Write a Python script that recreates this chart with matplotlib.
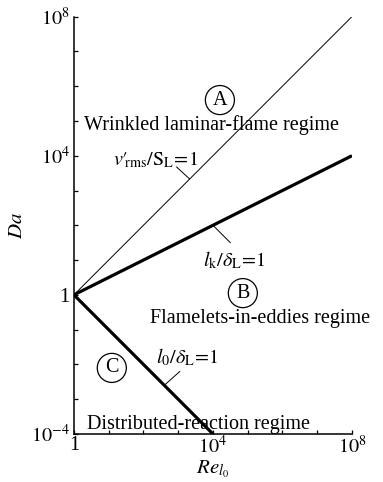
import numpy as np
import matplotlib
matplotlib.use('Agg')
import matplotlib.pyplot as plt

plt.rcParams['font.family'] = ['Liberation Serif', 'DejaVu Serif']
plt.rcParams['mathtext.fontset'] = 'stix'

# boundary lines of the regime diagram (Re_l0, Da)
re_vrms = [1, 1e8]
da_vrms = [1, 1e8]          # v'rms/SL = 1
re_kolmo = [1, 1e8]
da_kolmo = [1, 1e4]         # lk/deltaL = 1
re_integral = [1, 1e4]
da_integral = [1, 1e-4]     # l0/deltaL = 1

xticks = [1, 1e4, 1e8]
xticklabels = ['1', r'$10^4$', r'$10^8$']
yticks = [1e-4, 1, 1e4, 1e8]
yticklabels = [r'$10^{-4}$', '1', r'$10^4$', r'$10^8$']
decades = [10.0**k for k in range(-4, 9)]

fig = plt.figure(figsize=(3.83, 4.82), dpi=100)
ax = fig.add_axes([0.193, 0.0996, 0.726, 0.866])
ax.set_xscale('log')
ax.set_yscale('log')

ax.plot(re_vrms, da_vrms, color='black', lw=0.7)
ax.plot(re_kolmo, da_kolmo, color='black', lw=2.3, solid_capstyle='butt')
ax.plot(re_integral, da_integral, color='black', lw=2.3, solid_capstyle='butt')

ax.set_xlim(1, 1e8)
ax.set_ylim(1e-4, 1e8)
ax.spines['top'].set_visible(False)
ax.spines['right'].set_visible(False)
for s in ['left', 'bottom']:
    ax.spines[s].set_linewidth(1.1)

ax.set_xticks([d for d in decades if d >= 1], minor=True)
ax.set_yticks(decades, minor=True)
ax.set_xticks(xticks)
ax.set_xticklabels(xticklabels)
ax.set_yticks(yticks)
ax.set_yticklabels(yticklabels)
ax.xaxis.set_minor_formatter(matplotlib.ticker.NullFormatter())
ax.yaxis.set_minor_formatter(matplotlib.ticker.NullFormatter())
ax.tick_params(which='both', direction='in', length=3, width=0.9, labelsize=14.5)
ax.tick_params(axis='x', pad=1.5)
ax.tick_params(axis='y', pad=3)

ax.set_xlabel(r'$Re_{l_0}$', fontsize=15, labelpad=0.5)
ax.set_ylabel(r'$Da$', fontsize=15, labelpad=3)

fs = 14.5
circ = dict(boxstyle='circle,pad=0.25', facecolor='none', edgecolor='black', lw=0.9)
ax.text(10**4.2, 10**5.6, 'A', fontsize=fs, ha='center', va='center', bbox=circ)
ax.text(10**3.97, 10**4.89, 'Wrinkled laminar-flame regime', fontsize=fs, ha='center', va='center')
ax.text(10**4.86, 10**0.05, 'B', fontsize=fs, ha='center', va='center', bbox=circ)
ax.text(10**5.35, 10**-0.69, 'Flamelets-in-eddies regime', fontsize=fs, ha='center', va='center')
ax.text(10**1.09, 10**-2.1, 'C', fontsize=fs, ha='center', va='center', bbox=circ)
ax.text(10**3.57, 10**-3.74, 'Distributed-reaction regime', fontsize=fs, ha='center', va='center')

lead = dict(arrowstyle='-', color='black', lw=0.7, shrinkA=0, shrinkB=0)
ax.text(10**2.36, 10**3.88, "${v\u2032}_{\\!\\!\\rm rms}/{\\rm S_L}\\!=\\!1$", fontsize=fs, ha='center', va='center')
ax.annotate('', xy=(10**3.33, 10**3.33), xytext=(10**2.95, 10**3.68), arrowprops=lead)
ax.text(10**4.6, 10**1.0, r'$l_{\rm k}/\delta_{\rm L}\!=\!1$', fontsize=fs, ha='center', va='center')
ax.annotate('', xy=(10**4.0, 10**2.0), xytext=(10**4.5, 10**1.5), arrowprops=lead)
ax.text(10**3.27, 10**-1.81, r'$l_0/\delta_{\rm L}\!=\!1$', fontsize=fs, ha='center', va='center')
ax.annotate('', xy=(10**2.6, 10**-2.6), xytext=(10**3.05, 10**-2.2), arrowprops=lead)

fig.savefig('out.png', dpi=100)
